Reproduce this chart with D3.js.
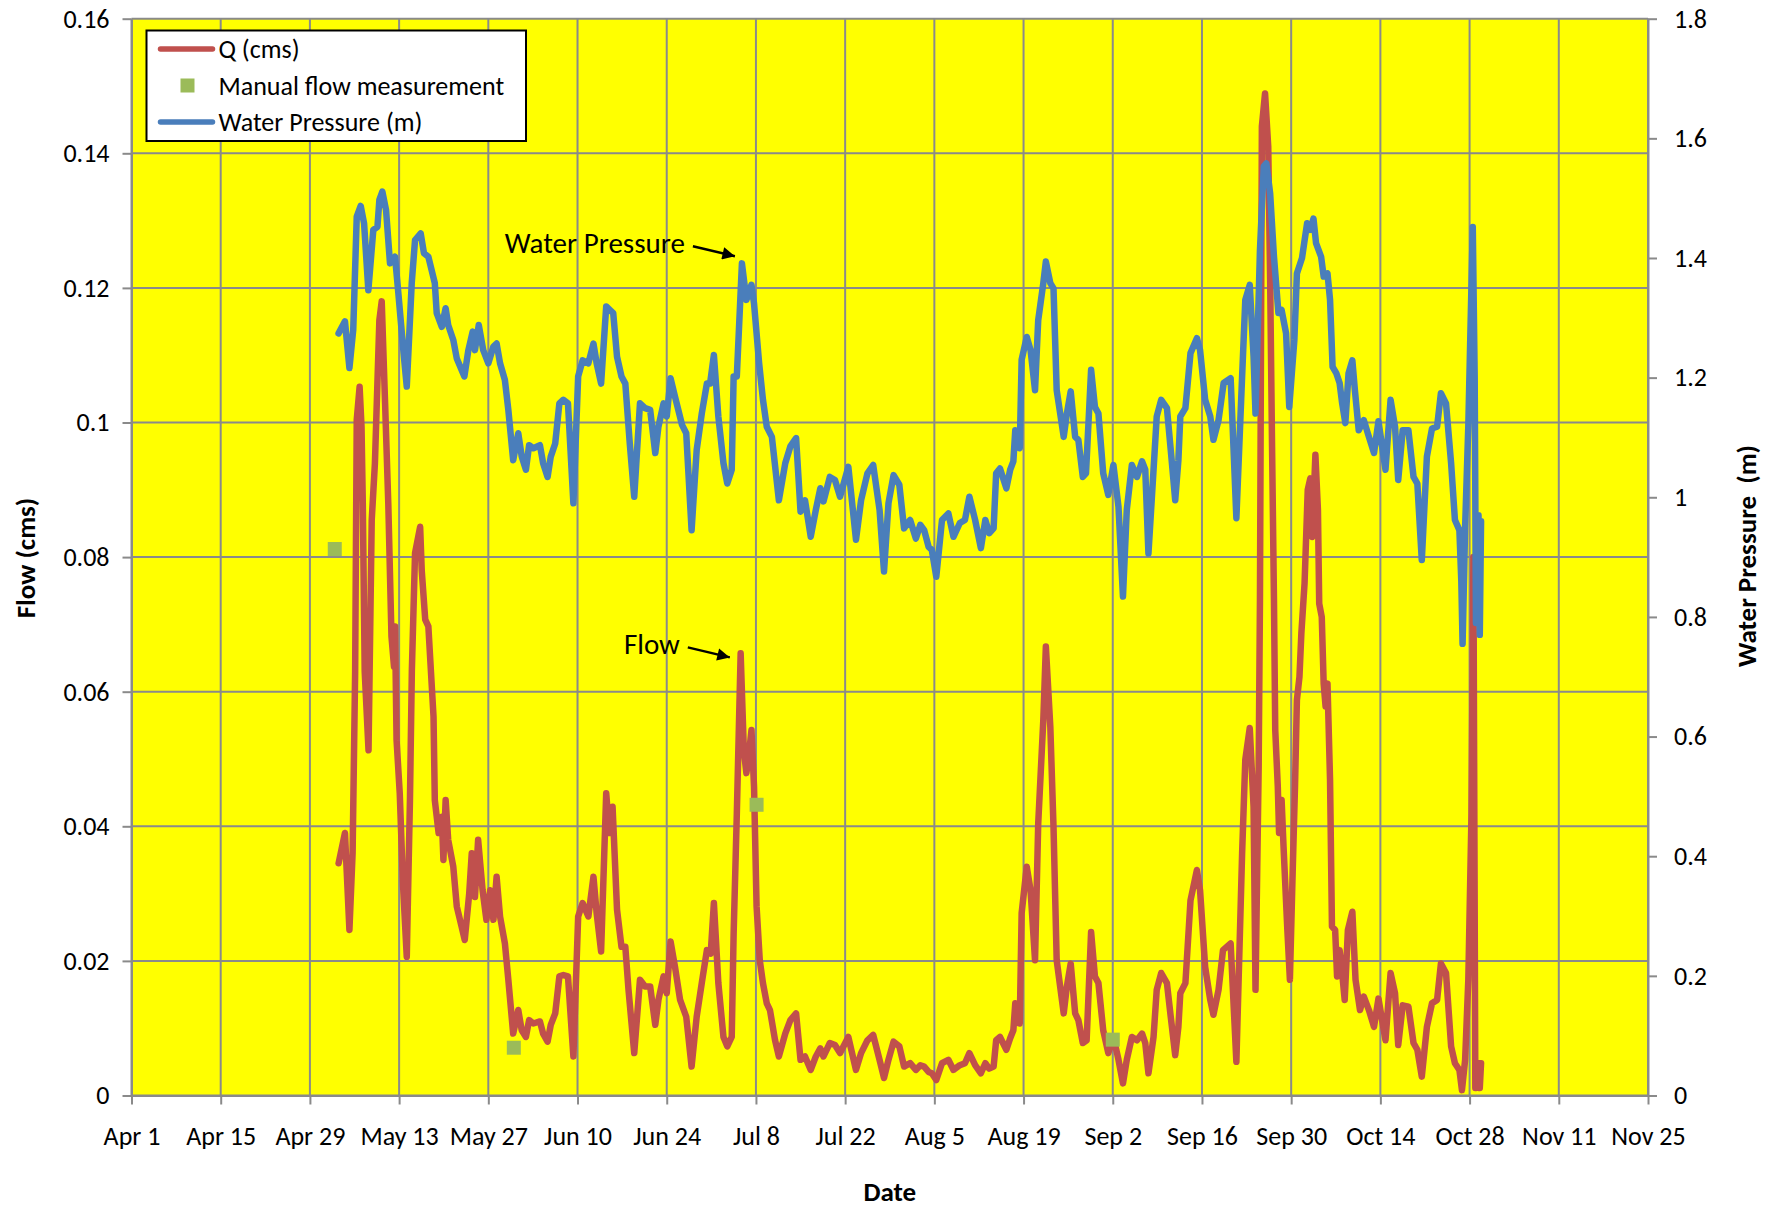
<!DOCTYPE html>
<html>
<head>
<meta charset="utf-8">
<script src="https://cdn.jsdelivr.net/npm/d3@7"></script>
<style>
    html, body { margin: 0; padding: 0; background: #ffffff; }
    svg { display: block; }
    text { font-family: Carlito, Calibri, Lato, sans-serif; fill: #000000; }
</style>
</head>
<body>
<svg id="chart" width="1778" height="1207"></svg>
<script>

// Days are counted from Apr 1
var start_day = '2010-04-01';
var end_day = '2010-11-25';
var tick_step_days = 14;

var flow_ticks = [ 0, 0.02, 0.04, 0.06, 0.08, 0.1, 0.12, 0.14, 0.16 ];
var pressure_ticks = [ 0, 0.2, 0.4, 0.6, 0.8, 1, 1.2, 1.4, 1.6, 1.8 ];

var legend_labels = [ 'Q (cms)', 'Manual flow measurement', 'Water Pressure (m)' ];

// [ day, Q (cms) ]
var flow_series = [
    [32.5,0.0345],[33.5,0.039],[34.2,0.0246],[34.7,0.036],[35.1,0.063],[35.35,0.1004],[35.8,0.1053],[36.1,0.0994],[36.3,0.088],[36.6,0.063],
    [37.2,0.0513],[37.7,0.0855],[38.2,0.0939],[38.9,0.1152],[39.27,0.118],[39.8,0.1028],[40.3,0.088],[40.8,0.0682],[41.2,0.0637],[41.36,0.0697],
    [41.6,0.0528],[42.1,0.0449],[42.6,0.0315],[43.2,0.0206],[43.7,0.0439],[44,0.0632],[44.5,0.0806],[45.3,0.0845],[45.55,0.078],[46.1,0.0707],
    [46.59,0.0697],[47.4,0.0563],[47.6,0.0439],[48.2,0.039],[48.7,0.0414],[48.95,0.035],[49.3,0.0439],[49.7,0.038],[50.5,0.034],[51.05,0.0281],
    [51.8,0.0251],[52.3,0.0231],[53,0.03],[53.4,0.036],[53.9,0.0295],[54.4,0.038],[55.1,0.0305],[55.7,0.0261],[56.3,0.0305],[56.8,0.0261],
    [57.3,0.0325],[57.84,0.0266],[58.6,0.0226],[59.14,0.0172],[59.9,0.0092],[60.7,0.0127],[61.24,0.0097],[61.9,0.0087],[62.4,0.0112],[63.07,0.0107],
    [64.1,0.011],[64.6,0.0092],[65.3,0.008],[65.8,0.0105],[66.5,0.0122],[67.15,0.0177],[67.78,0.0179],[68.5,0.0177],[69.35,0.0058],[70.1,0.0266],
    [70.8,0.0286],[71.7,0.0266],[72.5,0.0325],[73,0.0271],[73.7,0.0214],[74.5,0.0449],[75,0.039],[75.5,0.0429],[76.2,0.0276],[76.9,0.0221],
    [77.5,0.0221],[78,0.0157],[78.9,0.0063],[79.8,0.0172],[80.6,0.0162],[81.4,0.0162],[82.2,0.0105],[82.7,0.0142],[83.5,0.0177],[84,0.0152],
    [84.6,0.0229],[85.3,0.0191],[86.1,0.0142],[87.06,0.0117],[87.9,0.0043],[88.7,0.0117],[89.5,0.0167],[90.3,0.0216],[90.9,0.0211],[91.4,0.0286],
    [92.1,0.0167],[92.9,0.0087],[93.5,0.0073],[94.2,0.0087],[94.5,0.0241],[95,0.0419],[95.6,0.0657],[96.1,0.0513],[96.5,0.0479],[96.8,0.0498],
    [97.3,0.0543],[97.7,0.0459],[98.1,0.0281],[98.6,0.0201],[99.1,0.0167],[99.7,0.0137],[100.2,0.0127],[101,0.0082],[101.6,0.0058],[102.6,0.0092],
    [103.4,0.0112],[104.3,0.0122],[105,0.0053],[105.7,0.0058],[106.6,0.0038],[107.4,0.0058],[108.1,0.007],[108.6,0.0058],[109.6,0.0078],[110.4,0.0075],
    [111.2,0.0063],[112.5,0.0087],[113.7,0.0038],[114.5,0.0063],[115.5,0.0082],[116.4,0.009],[117.4,0.0053],[118.1,0.0026],[118.8,0.0053],[119.6,0.008],
    [120.5,0.0073],[121.25,0.0043],[122.2,0.0048],[123.1,0.0038],[123.8,0.0045],[124.4,0.0043],[125.1,0.0035],[125.6,0.0033],[126.3,0.0023],[127.2,0.0048],
    [128.2,0.0053],[129,0.0038],[130,0.0045],[130.8,0.0048],[131.5,0.0063],[132.4,0.0045],[133.3,0.0033],[134,0.0048],[134.6,0.004],[135.3,0.0043],
    [135.7,0.0082],[136.3,0.0087],[137.3,0.0068],[137.9,0.0085],[138.4,0.0097],[138.7,0.0137],[139.4,0.0107],[139.7,0.0271],[140.5,0.034],[141.1,0.0305],
    [141.8,0.0201],[142.3,0.0404],[143.1,0.0558],[143.5,0.0667],[144.2,0.0548],[144.7,0.0399],[145.2,0.0201],[146.3,0.0122],[146.8,0.0162],[147.4,0.0196],
    [148.1,0.0122],[148.6,0.0112],[149.3,0.0078],[149.9,0.0082],[150.6,0.0243],[151.2,0.0177],[151.75,0.0167],[152.5,0.0097],[153.3,0.0063],[154.1,0.0087],
    [154.9,0.0053],[155.6,0.0018],[156.2,0.0053],[157,0.0087],[157.8,0.0082],[158.6,0.0092],[159.1,0.0078],[159.6,0.0033],[160.4,0.0087],[160.9,0.0157],
    [161.6,0.0182],[162.5,0.0167],[163.1,0.0117],[163.8,0.006],[164.3,0.0102],[164.6,0.0152],[165.4,0.0167],[166.2,0.029],[167.2,0.0335],[167.7,0.0305],
    [168.5,0.0191],[169.3,0.0142],[169.8,0.012],[170.6,0.0157],[171.3,0.0216],[172.5,0.0226],[173.4,0.005],[174.3,0.036],[174.8,0.0499],[175.5,0.0546],
    [176.1,0.0429],[176.4,0.0157],[176.9,0.0489],[177.1,0.0736],[177.4,0.144],[177.9,0.1489],[178.4,0.141],[178.7,0.1212],[179,0.0964],[179.3,0.0736],
    [179.5,0.0543],[179.9,0.0459],[180.1,0.039],[180.5,0.0439],[180.8,0.037],[181.4,0.0246],[181.8,0.0172],[182.2,0.032],[182.6,0.0459],[182.9,0.0588],
    [183.3,0.0622],[183.6,0.0687],[184.1,0.0761],[184.6,0.09],[185,0.0917],[185.3,0.083],[185.8,0.0952],[186.2,0.087],[186.4,0.0731],[186.8,0.0711],
    [187.1,0.0612],[187.4,0.0578],[187.7,0.0612],[188.1,0.0469],[188.4,0.0251],[188.9,0.0246],[189.2,0.0177],[189.6,0.0216],[190,0.0182],[190.4,0.0142],
    [190.9,0.0246],[191.6,0.0273],[192.1,0.0172],[192.8,0.0127],[193.4,0.0147],[194.2,0.0127],[195,0.0102],[195.7,0.0144],[196.8,0.0082],[197.6,0.0182],
    [198.3,0.0152],[198.8,0.0075],[199.5,0.0134],[200.4,0.0132],[201.2,0.0078],[201.8,0.0068],[202.5,0.0028],[203.3,0.0102],[204.1,0.0137],[204.9,0.0142],
    [205.5,0.0196],[206.3,0.0182],[207.1,0.0073],[207.7,0.0048],[208.4,0.0038],[208.8,0.0008],[209.3,0.0053],[209.8,0.0172],[210.3,0.0419],[210.6,0.08],
    [210.9,0.0011],[211.4,0.0048],[211.6,0.0011],[211.8,0.0048]
];

// [ day, water pressure (m) ]
var pressure_series = [
    [32.5,1.274],[33.5,1.294],[34.2,1.216],[34.8,1.28],[35.35,1.469],[35.97,1.487],[36.5,1.458],[37.17,1.346],[37.95,1.447],[38.6,1.452],
    [38.9,1.497],[39.37,1.511],[39.95,1.48],[40.57,1.391],[41.36,1.402],[41.88,1.341],[42.66,1.246],[43.2,1.185],[43.98,1.358],[44.5,1.43],
    [45.39,1.441],[45.9,1.408],[46.59,1.402],[47.6,1.358],[47.9,1.308],[48.7,1.285],[49.3,1.316],[49.7,1.288],[50.5,1.263],[51.05,1.232],
    [52.24,1.202],[52.87,1.246],[53.55,1.277],[53.9,1.246],[54.5,1.288],[55.2,1.246],[56,1.224],[56.8,1.252],[57.3,1.257],[57.84,1.224],
    [58.6,1.196],[59.14,1.146],[59.9,1.062],[60.7,1.107],[61.24,1.068],[61.9,1.046],[62.4,1.087],[63.07,1.082],[64.1,1.087],[64.6,1.057],
    [65.3,1.034],[65.8,1.068],[66.5,1.09],[67.15,1.157],[67.78,1.163],[68.5,1.157],[69.35,0.99],[70.1,1.202],[70.8,1.229],[71.7,1.224],
    [72.5,1.257],[73,1.224],[73.7,1.19],[74.5,1.319],[75.1,1.313],[75.6,1.308],[76.2,1.235],[76.9,1.202],[77.5,1.19],[78.2,1.09],
    [78.9,1.001],[79.8,1.157],[80.6,1.149],[81.4,1.146],[82.2,1.074],[82.7,1.118],[83.5,1.157],[84,1.135],[84.6,1.199],[85.3,1.168],
    [86.4,1.121],[87.06,1.107],[87.9,0.945],[88.7,1.079],[89.5,1.14],[90.3,1.19],[90.8,1.19],[91.4,1.238],[92.1,1.135],[92.9,1.057],
    [93.5,1.023],[94.2,1.046],[94.5,1.202],[95,1.202],[95.8,1.391],[96.5,1.33],[97.3,1.355],[97.7,1.324],[98.5,1.224],[99.1,1.163],
    [99.7,1.118],[100.5,1.101],[101.6,0.995],[102.6,1.057],[103.4,1.085],[104.3,1.099],[105,0.976],[105.7,0.995],[106.6,0.934],[107.4,0.979],
    [108.1,1.015],[108.6,0.993],[109.6,1.034],[110.4,1.029],[111.2,1.001],[112.5,1.051],[113.7,0.929],[114.5,0.995],[115.5,1.04],[116.4,1.054],
    [117.4,0.979],[118.1,0.876],[118.8,0.99],[119.6,1.037],[120.5,1.021],[121.25,0.948],[122.2,0.962],[123.1,0.931],[123.8,0.954],[124.4,0.945],
    [125.1,0.917],[125.6,0.912],[126.3,0.867],[127.2,0.962],[128.2,0.973],[129,0.934],[130,0.957],[130.8,0.962],[131.5,1.001],[132.4,0.962],
    [133.3,0.915],[134,0.962],[134.6,0.94],[135.3,0.948],[135.7,1.04],[136.3,1.048],[137.3,1.015],[137.9,1.046],[138.4,1.06],[138.7,1.112],
    [139.4,1.082],[139.7,1.23],[140.5,1.268],[141.1,1.246],[141.8,1.179],[142.3,1.296],[143.1,1.358],[143.5,1.394],[144.2,1.358],[144.7,1.349],
    [145.2,1.179],[146.3,1.101],[146.8,1.14],[147.4,1.177],[148.1,1.101],[148.6,1.096],[149.3,1.034],[149.8,1.04],[150.6,1.213],[151.2,1.151],
    [151.75,1.14],[152.5,1.04],[153.3,1.004],[154.1,1.054],[154.9,0.984],[155.6,0.834],[156.2,0.979],[157,1.054],[157.8,1.034],[158.6,1.06],
    [159.1,1.046],[159.6,0.906],[160.4,1.046],[160.9,1.135],[161.6,1.163],[162.5,1.149],[163.1,1.079],[163.8,0.995],[164.3,1.062],[164.6,1.135],
    [165.4,1.149],[166.2,1.241],[167.2,1.266],[167.7,1.246],[168.5,1.163],[169.3,1.135],[169.8,1.096],[170.6,1.129],[171.4,1.191],[172.5,1.199],
    [173.4,0.965],[174.3,1.202],[174.8,1.33],[175.5,1.355],[176.1,1.235],[176.4,1.14],[177.1,1.413],[177.7,1.553],[178.1,1.558],[178.7,1.508],
    [179.3,1.402],[180,1.308],[180.5,1.313],[181.2,1.274],[181.7,1.151],[182.5,1.263],[182.9,1.374],[183.7,1.4],[184.5,1.458],[185,1.447],
    [185.5,1.466],[185.9,1.425],[186.7,1.402],[187.1,1.369],[187.7,1.374],[188.1,1.33],[188.5,1.218],[189.1,1.207],[189.6,1.191],[190,1.157],
    [190.5,1.124],[191,1.207],[191.6,1.229],[192,1.179],[192.6,1.112],[193.4,1.129],[194.2,1.101],[195,1.074],[195.7,1.127],[196.8,1.046],
    [197.6,1.163],[198.3,1.118],[198.8,1.029],[199.5,1.112],[200.4,1.112],[201.2,1.034],[201.8,1.023],[202.5,0.895],[203.3,1.068],[204.1,1.115],
    [204.9,1.118],[205.5,1.174],[206.3,1.157],[207.1,1.057],[207.7,0.962],[208.4,0.945],[208.7,0.86],[208.9,0.755],[209.3,0.95],[209.8,1.12],
    [210.5,1.452],[210.8,1.2],[211,0.79],[211.4,0.97],[211.6,0.77],[211.8,0.96]
];

var manual_days = [ 31.9, 60, 98.1, 154 ];
var manual_cms = [ 0.0812, 0.0071, 0.0432, 0.0083 ];

// Arrow labels: text, series, day and value the arrow points at
var note_labels = [ 'Water Pressure', 'Flow' ];
var note_series = [ 'pressure', 'flow' ];
var note_days = [ 94.7, 93.9 ];
var note_values = [ 1.403, 0.0651 ];

var colors = { flow: '#c0504d', manual: '#9bbb59', pressure: '#4a7ebb', grid: '#8a8a8a', plot: '#ffff00' };

draw_chart();

function draw_chart () {

    var svg = d3.select( '#chart' );

    var plot_left = 131.5;
    var plot_right = 1648;
    var plot_top = 18.7;
    var plot_bottom = 1095.5;

    var start = new Date( start_day + 'T00:00:00Z' );
    var end = new Date( end_day + 'T00:00:00Z' );

    var day_to_date = function ( d ) {
        return new Date( start.getTime() + d * 86400000 );
    };

    var date_ticks = d3.range( 0, d3.utcDay.count( start, end ) + 1, tick_step_days ).map( day_to_date );

    var x = d3.scaleUtc().domain( [ start, end ] ).range( [ plot_left, plot_right ] );
    var y_flow = d3.scaleLinear().domain( [ 0, 0.16 ] ).range( [ plot_bottom, plot_top ] );
    var y_pressure = d3.scaleLinear().domain( [ 0, 1.8 ] ).range( [ plot_bottom, plot_top ] );

    // Plot background
    svg.append( 'rect' )
        .attr( 'x', plot_left )
        .attr( 'y', plot_top )
        .attr( 'width', plot_right - plot_left )
        .attr( 'height', plot_bottom - plot_top )
        .attr( 'fill', colors.plot );

    // Grid
    var grid = svg.append( 'g' )
        .attr( 'stroke', colors.grid )
        .attr( 'stroke-width', 2 );

    grid.selectAll( 'line.h' )
        .data( flow_ticks )
        .enter().append( 'line' )
        .attr( 'class', 'h' )
        .attr( 'x1', plot_left )
        .attr( 'x2', plot_right )
        .attr( 'y1', function ( d ) { return y_flow( d ); } )
        .attr( 'y2', function ( d ) { return y_flow( d ); } );

    grid.selectAll( 'line.v' )
        .data( date_ticks )
        .enter().append( 'line' )
        .attr( 'class', 'v' )
        .attr( 'y1', plot_top )
        .attr( 'y2', plot_bottom )
        .attr( 'x1', function ( d ) { return x( d ); } )
        .attr( 'x2', function ( d ) { return x( d ); } );

    // Axes
    var left_axis = svg.append( 'g' )
        .attr( 'transform', 'translate(' + plot_left + ',0)' )
        .call( d3.axisLeft( y_flow )
            .tickValues( flow_ticks )
            .tickFormat( d3.format( '~g' ) )
            .tickSize( 9 )
            .tickSizeOuter( 0 )
            .tickPadding( 13 ) );

    var right_axis = svg.append( 'g' )
        .attr( 'transform', 'translate(' + plot_right + ',0)' )
        .call( d3.axisRight( y_pressure )
            .tickValues( pressure_ticks )
            .tickFormat( d3.format( '~g' ) )
            .tickSize( 9 )
            .tickSizeOuter( 0 )
            .tickPadding( 17 ) );

    var bottom_axis = svg.append( 'g' )
        .attr( 'transform', 'translate(0,' + plot_bottom + ')' )
        .call( d3.axisBottom( x )
            .tickValues( date_ticks )
            .tickFormat( d3.utcFormat( '%b %-d' ) )
            .tickSize( 9 )
            .tickSizeOuter( 0 )
            .tickPadding( 22 ) );

    [ left_axis, right_axis, bottom_axis ].forEach( function ( axis ) {

        axis.select( '.domain' )
            .attr( 'stroke', colors.grid )
            .attr( 'stroke-width', 2 );

        axis.selectAll( '.tick line' )
            .attr( 'stroke', colors.grid )
            .attr( 'stroke-width', 2 );

        axis.selectAll( '.tick text' )
            .attr( 'fill', '#000' )
            .style( 'font-size', '26px' );

    });

    // Axis titles
    svg.append( 'text' )
        .attr( 'transform', 'translate(25,558) rotate(-90)' )
        .attr( 'text-anchor', 'middle' )
        .attr( 'dominant-baseline', 'central' )
        .style( 'font-size', '27px' )
        .style( 'font-weight', 'bold' )
        .text( 'Flow (cms)' );

    svg.append( 'text' )
        .attr( 'transform', 'translate(1746,556) rotate(-90)' )
        .attr( 'text-anchor', 'middle' )
        .attr( 'dominant-baseline', 'central' )
        .style( 'font-size', '27px' )
        .style( 'font-weight', 'bold' )
        .style( 'white-space', 'pre' )
        .text( 'Water Pressure  (m)' );

    svg.append( 'text' )
        .attr( 'x', ( plot_left + plot_right ) / 2 )
        .attr( 'y', 1191 )
        .attr( 'text-anchor', 'middle' )
        .attr( 'dominant-baseline', 'central' )
        .style( 'font-size', '27px' )
        .style( 'font-weight', 'bold' )
        .text( 'Date' );

    // Series
    var flow_line = d3.line()
        .x( function ( d ) { return x( day_to_date( d[0] ) ); } )
        .y( function ( d ) { return y_flow( d[1] ); } );

    var pressure_line = d3.line()
        .x( function ( d ) { return x( day_to_date( d[0] ) ); } )
        .y( function ( d ) { return y_pressure( d[1] ); } );

    svg.append( 'path' )
        .datum( flow_series )
        .attr( 'd', flow_line )
        .attr( 'fill', 'none' )
        .attr( 'stroke', colors.flow )
        .attr( 'stroke-width', 6.5 )
        .attr( 'stroke-linejoin', 'round' )
        .attr( 'stroke-linecap', 'round' );

    svg.append( 'g' )
        .selectAll( 'rect' )
        .data( d3.zip( manual_days, manual_cms ) )
        .enter().append( 'rect' )
        .attr( 'x', function ( d ) { return x( day_to_date( d[0] ) ) - 7; } )
        .attr( 'y', function ( d ) { return y_flow( d[1] ) - 7; } )
        .attr( 'width', 14 )
        .attr( 'height', 14 )
        .attr( 'fill', colors.manual );

    svg.append( 'path' )
        .datum( pressure_series )
        .attr( 'd', pressure_line )
        .attr( 'fill', 'none' )
        .attr( 'stroke', colors.pressure )
        .attr( 'stroke-width', 6.5 )
        .attr( 'stroke-linejoin', 'round' )
        .attr( 'stroke-linecap', 'round' );

    // Arrow labels
    svg.append( 'defs' ).append( 'marker' )
        .attr( 'id', 'arrow' )
        .attr( 'viewBox', '0 0 10 10' )
        .attr( 'refX', 10 )
        .attr( 'refY', 5 )
        .attr( 'markerWidth', 6.5 )
        .attr( 'markerHeight', 5 )
        .attr( 'markerUnits', 'strokeWidth' )
        .attr( 'orient', 'auto' )
        .append( 'path' )
        .attr( 'd', 'M0,0 L10,5 L0,10 Z' )
        .attr( 'fill', '#000' );

    note_labels.forEach( function ( label, i ) {

        var scale = note_series[ i ] === 'flow' ? y_flow : y_pressure;
        var tip_x = x( day_to_date( note_days[ i ] ) );
        var tip_y = scale( note_values[ i ] );

        svg.append( 'line' )
            .attr( 'x1', tip_x - 42 )
            .attr( 'y1', tip_y - 10 )
            .attr( 'x2', tip_x )
            .attr( 'y2', tip_y )
            .attr( 'stroke', '#000' )
            .attr( 'stroke-width', 2.5 )
            .attr( 'marker-end', 'url(#arrow)' );

        svg.append( 'text' )
            .attr( 'x', tip_x - 50 )
            .attr( 'y', tip_y - 3 )
            .attr( 'text-anchor', 'end' )
            .style( 'font-size', '29px' )
            .text( label );

    });

    // Legend
    var legend = svg.append( 'g' ).attr( 'transform', 'translate(146.5,30.5)' );

    legend.append( 'rect' )
        .attr( 'width', 379.5 )
        .attr( 'height', 110.5 )
        .attr( 'fill', '#fff' )
        .attr( 'stroke', '#000' )
        .attr( 'stroke-width', 2 );

    var rows = legend.selectAll( 'g.row' )
        .data( legend_labels )
        .enter().append( 'g' )
        .attr( 'class', 'row' )
        .attr( 'transform', function ( d, i ) { return 'translate(0,' + ( 18.5 + i * 36.5 ) + ')'; } );

    rows.filter( function ( d, i ) { return i !== 1; } )
        .append( 'line' )
        .attr( 'x1', 14 )
        .attr( 'x2', 66 )
        .attr( 'stroke', function ( d, i ) { return i === 0 ? colors.flow : colors.pressure; } )
        .attr( 'stroke-width', 5.5 )
        .attr( 'stroke-linecap', 'round' );

    rows.filter( function ( d, i ) { return i === 1; } )
        .append( 'rect' )
        .attr( 'x', 34 )
        .attr( 'y', -7 )
        .attr( 'width', 14 )
        .attr( 'height', 14 )
        .attr( 'fill', colors.manual );

    rows.append( 'text' )
        .attr( 'x', 72 )
        .attr( 'dominant-baseline', 'central' )
        .style( 'font-size', '26px' )
        .text( function ( d ) { return d; } );

}

</script>
</body>
</html>
